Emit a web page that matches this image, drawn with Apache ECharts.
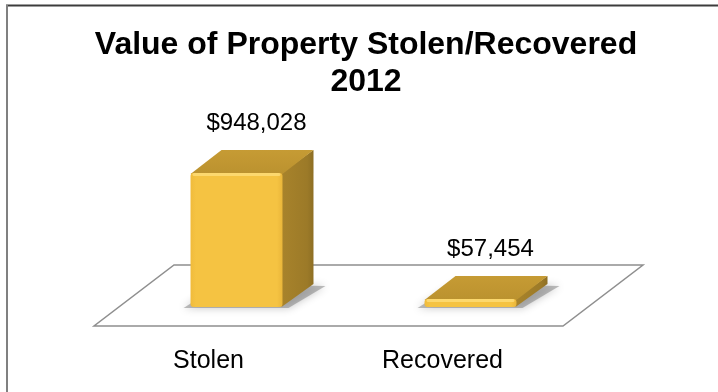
<!DOCTYPE html>
<html>
<head>
<meta charset="utf-8">
<script src="https://cdn.jsdelivr.net/npm/echarts@6/dist/echarts.min.js"></script>
<style>
html,body{margin:0;padding:0;background:#fff;}
#chart{width:718px;height:392px;}
</style>
</head>
<body>
<div id="chart"></div>
<script>
const categories = ['Stolen', 'Recovered'];
const values = [948028, 57454];
const titleLines = ['Value of Property Stolen/Recovered', '2012'];

const FONT = "'Liberation Sans', Arial, sans-serif";
const chart = echarts.init(document.getElementById('chart'), null, {renderer: 'canvas'});

function fmt(v) { return '$' + v.toLocaleString('en-US'); }

function floorItem(params, api) {
  const cs = params.coordSys;
  const L = cs.x, R = cs.x + cs.width, B = cs.y + cs.height;
  const fl = [L - 25.5, B + 19], fr = [R - 24.5, B + 19];
  const ddx = 80, ddy = -61;
  return {
    type: 'polygon',
    shape: { points: [fl, fr, [fr[0] + ddx, fr[1] + ddy], [fl[0] + ddx, fl[1] + ddy]] },
    style: { fill: '#ffffff', stroke: '#8f8f8f', lineWidth: 1.5 }
  };
}

function barItem(params, api) {
  const idx = api.value(0), v = api.value(1);
  const base = api.coord([idx, 0]);
  const top = api.coord([idx, v]);
  const bw = api.size([1, 0])[0] * 0.393;
  const dx = 31, dy = -23;
  const l = base[0] - bw / 2, r = base[0] + bw / 2, yb = base[1], yt = top[1];
  return {
    type: 'group',
    children: [
      { type: 'polygon', z2: 1,
        shape: { points: [[l - 7, yb + 1], [r + 6, yb + 1], [r + dx + 12, yb + dy + 2], [l + dx, yb + dy]] },
        style: { fill: 'rgba(110,110,110,0.45)', shadowBlur: 8, shadowColor: 'rgba(0,0,0,0.5)' } },
      { type: 'polygon', z2: 2,
        shape: { points: [[r - 1, yt], [r + dx, yt + dy], [r + dx, yb + dy], [r - 1, yb]] },
        style: { fill: new echarts.graphic.LinearGradient(0, 0, 1, 0, [
          { offset: 0, color: '#a8832b' }, { offset: 0.8, color: '#9c7a28' }, { offset: 1, color: '#8e6f24' }]) } },
      { type: 'polygon', z2: 3,
        shape: { points: [[l, yt + 1], [l + dx, yt + dy], [r + dx, yt + dy], [r, yt + 1]] },
        style: { fill: new echarts.graphic.LinearGradient(0, 0, 0, 1, [
          { offset: 0, color: '#c69b34' }, { offset: 1, color: '#bb922f' }]) } },
      { type: 'rect', z2: 4,
        shape: { x: l, y: yt, width: bw, height: yb - yt, r: 3 },
        style: { fill: new echarts.graphic.LinearGradient(0, 0, 1, 0, [
          { offset: 0, color: '#f0bb3c' }, { offset: 0.06, color: '#f5c342' },
          { offset: 0.94, color: '#f5c342' }, { offset: 1, color: '#eab63a' }]) } },
      { type: 'rect', z2: 5,
        shape: { x: l + 2, y: yt, width: bw - 4, height: Math.min(3, (yb - yt) / 2), r: 2 },
        style: { fill: 'rgba(255,225,130,0.7)' } },
      { type: 'text', z2: 6,
        style: { text: fmt(v), x: base[0] + 20, y: yt - 50, align: 'center', verticalAlign: 'middle',
          fontSize: 24, fontFamily: FONT, fill: '#000' } }
    ]
  };
}

const option = {
  animation: false,
  backgroundColor: '#ffffff',
  title: {
    text: titleLines.join('\n'),
    left: 366,
    textAlign: 'center',
    top: 27,
    padding: 0,
    textStyle: { fontSize: 32, fontWeight: 'bold', fontFamily: FONT, color: '#000', lineHeight: 37 }
  },
  graphic: [
    { type: 'line', shape: { x1: 6, y1: 5.5, x2: 718, y2: 5.5 }, style: { stroke: '#3c3c3c', lineWidth: 2 } },
    { type: 'line', shape: { x1: 7, y1: 5, x2: 7, y2: 392 }, style: { stroke: '#808080', lineWidth: 2 } }
  ],
  grid: { left: 119.5, width: 468, top: 165.7, height: 141.3 },
  xAxis: {
    type: 'category', data: categories,
    axisLine: { show: false }, axisTick: { show: false }, splitLine: { show: false },
    axisLabel: { margin: 42, fontSize: 25, fontFamily: FONT, color: '#000', padding: [0, 56, 0, 0] }
  },
  yAxis: {
    type: 'value', min: 0, max: 1000000, show: false, splitLine: { show: false }
  },
  series: [
    { type: 'custom', renderItem: floorItem, data: [0], z: 1, silent: true },
    { type: 'custom', renderItem: barItem, data: values.map((v, i) => [i, v]), z: 2,
      encode: { x: 0, y: 1 } }
  ]
};
chart.setOption(option);
</script>
</body>
</html>
